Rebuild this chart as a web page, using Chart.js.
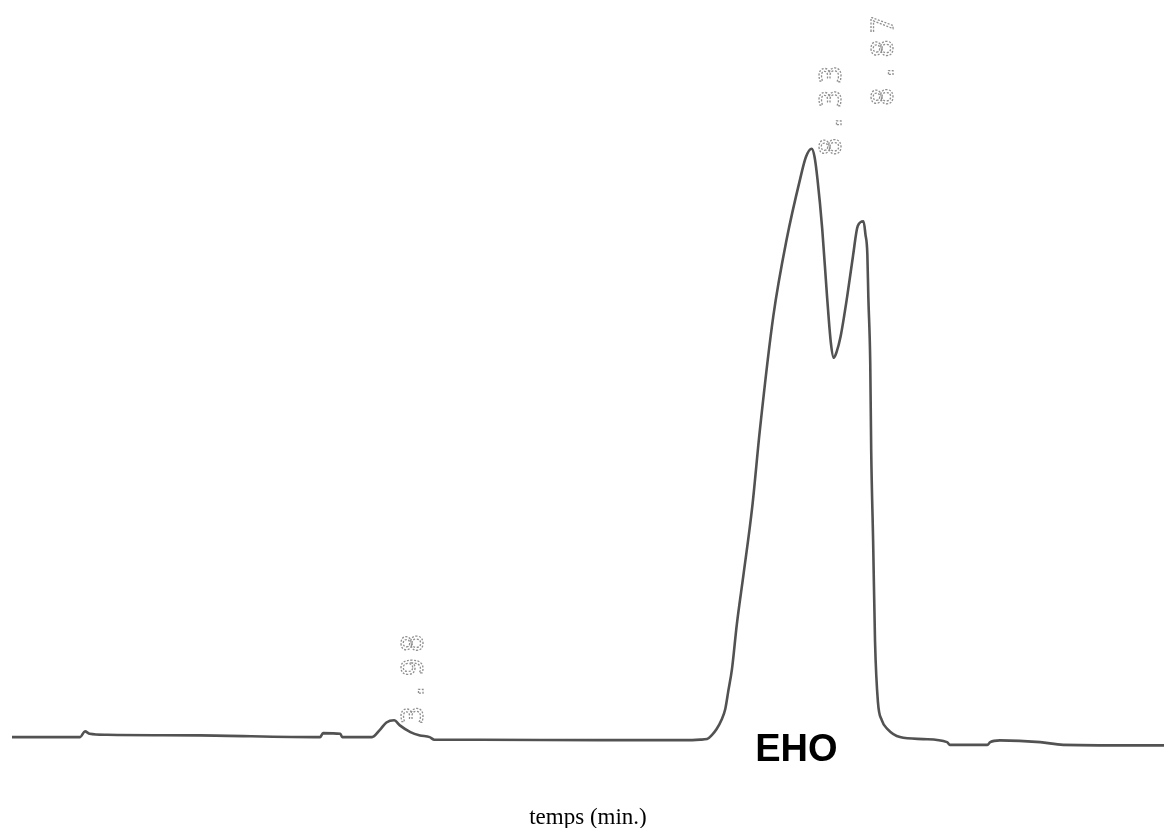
<!DOCTYPE html>
<html>
<head>
<meta charset="utf-8">
<script src="https://cdn.jsdelivr.net/npm/chart.js@4.4.1/dist/chart.umd.min.js"></script>
<style>
  html, body { margin: 0; padding: 0; background: #fff; }
  #wrap { width: 1164px; height: 828px; position: relative; }
</style>
</head>
<body>
<div id="wrap"><canvas id="chart"></canvas></div>
<script>
// retention time (min) and detector signal (arbitrary units, main peak = 100)
const timeMin = [
  0.00, 0.71, 0.76, 0.81, 0.99, 1.96, 3.21, 3.24, 3.42, 3.44,
  3.75, 3.83, 3.90, 3.98, 4.04, 4.15, 4.25, 4.35, 4.40, 4.88,
  6.13, 7.06, 7.17, 7.24, 7.29, 7.34, 7.39, 7.43, 7.46, 7.50,
  7.55, 7.62, 7.71, 7.79, 7.93, 8.07, 8.21, 8.27, 8.33, 8.36,
  8.39, 8.44, 8.49, 8.53, 8.56, 8.59, 8.63, 8.70, 8.76, 8.81,
  8.87, 8.89, 8.91, 8.92, 8.94, 8.95, 8.97, 8.99, 9.02, 9.06,
  9.12, 9.25, 9.49, 9.74, 9.77, 10.16, 10.19, 10.29, 10.71, 10.95,
  12.00
]
const signal = [
  0.34, 0.34, 1.31, 0.90, 0.73, 0.63, 0.34, 1.02, 0.90, 0.34,
  0.34, 1.53, 2.81, 3.19, 2.33, 1.19, 0.63, 0.34, -0.12, -0.12,
  -0.17, -0.17, -0.09, 0.00, 0.68, 1.70, 3.24, 5.11, 8.00, 11.9,
  19.4, 27.9, 39.2, 52.3, 71.6, 84.7, 94.9, 98.6, 100.0, 98.6,
  94.9, 86.4, 75.0, 67.1, 64.6, 65.6, 68.1, 75.0, 81.8, 86.9,
  87.7, 85.5, 82.1, 75.0, 63.7, 48.9, 33.6, 16.5, 6.3, 3.2,
  1.70, 0.34, 0.00, -0.51, -0.97, -0.97, -0.51, -0.22, -0.51, -0.97,
  -1.07
]

// integrator annotations
const peakTimes = [3.98, 8.33, 8.87]
const peakLabels = ['3.98', '8.33', '8.87']
const peakLevels = [2.5, 98.8, 107.3]

const xLabel = 'temps (min.)'
const sampleName = 'EHO'

const points = timeMin.map((t, i) => ({ x: t, y: signal[i] }))

const peakText = {
  id: 'peakText',
  afterDatasetsDraw(chart) {
    const { ctx, scales } = chart
    ctx.save()
    ctx.font = '30px "DejaVu Sans Mono", monospace'
    ctx.letterSpacing = '6px'
    ctx.strokeStyle = '#8f8f8f'
    ctx.lineWidth = 1.3
    ctx.setLineDash([2, 1.5])
    ctx.textAlign = 'left'
    ctx.textBaseline = 'alphabetic'
    peakTimes.forEach((t, i) => {
      const x = scales.x.getPixelForValue(t) + 29
      const y = scales.y.getPixelForValue(peakLevels[i])
      ctx.save()
      ctx.translate(x, y)
      ctx.rotate(-Math.PI / 2)
      ctx.strokeText(peakLabels[i], 0, 0)
      ctx.restore()
    })
    ctx.restore()

    // sample name under the main peaks
    ctx.save()
    ctx.font = 'bold 38px "Liberation Sans", Arial, sans-serif'
    ctx.fillStyle = '#000'
    ctx.textAlign = 'center'
    ctx.textBaseline = 'middle'
    ctx.fillText(sampleName, scales.x.getPixelForValue(8.17), scales.y.getPixelForValue(-1.9))
    ctx.restore()
  }
}

new Chart(document.getElementById('chart'), {
  type: 'line',
  data: {
    datasets: [{
      data: points,
      borderColor: '#525252',
      borderWidth: 2.6,
      pointRadius: 0,
      fill: false,
      cubicInterpolationMode: 'monotone'
    }]
  },
  options: {
    responsive: true,
    maintainAspectRatio: false,
    animation: false,
    layout: { padding: { left: 12, right: 0, top: 0, bottom: 0 } },
    plugins: {
      legend: { display: false },
      tooltip: { enabled: false }
    },
    scales: {
      x: {
        type: 'linear',
        min: 0,
        max: 12,
        grid: { display: false },
        border: { display: false },
        ticks: { display: false },
        title: {
          display: true,
          text: xLabel,
          color: '#000',
          font: { family: '"Liberation Serif", "Times New Roman", serif', size: 23 },
          padding: { top: 8, bottom: -4 }
        }
      },
      y: {
        display: false,
        min: -8.35,
        max: 125.2
      }
    }
  },
  plugins: [peakText]
})
</script>
</body>
</html>
